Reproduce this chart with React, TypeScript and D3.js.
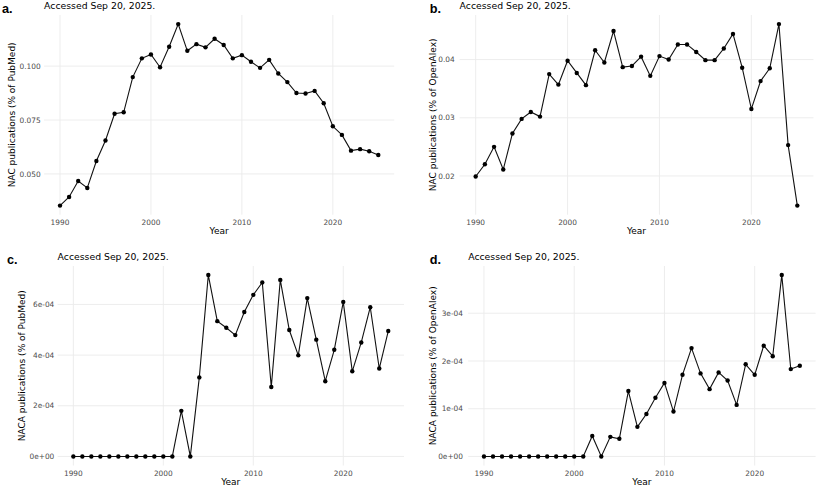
import React from 'react';
import * as d3 from 'd3';

// years 1990..2025
const years: number[] = [
  1990, 1991, 1992, 1993, 1994, 1995, 1996, 1997, 1998, 1999,
  2000, 2001, 2002, 2003, 2004, 2005, 2006, 2007, 2008, 2009,
  2010, 2011, 2012, 2013, 2014, 2015, 2016, 2017, 2018, 2019,
  2020, 2021, 2022, 2023, 2024, 2025,
];

// a. NAC share of PubMed (%)
const nacPubmed: number[] = [
  0.0353, 0.0393, 0.0467, 0.0435, 0.056, 0.0655, 0.0779, 0.0786, 0.0949, 0.1036,
  0.1054, 0.0995, 0.109, 0.1195, 0.1071, 0.1102, 0.1087, 0.1127, 0.1098, 0.1036,
  0.1051, 0.102, 0.0992, 0.1029, 0.0966, 0.0926, 0.0875, 0.0873, 0.0885, 0.0828,
  0.0721, 0.0681, 0.0608, 0.0615, 0.0605, 0.0588,
];

// b. NAC share of OpenAlex (%)
const nacOpenalex: number[] = [
  0.0199, 0.022, 0.025, 0.0211, 0.0273, 0.0298, 0.031, 0.0302, 0.0375, 0.0357,
  0.0398, 0.0377, 0.0356, 0.0416, 0.0395, 0.0449, 0.0387, 0.0389, 0.0405, 0.0372,
  0.0406, 0.04, 0.0426, 0.0426, 0.0413, 0.0399, 0.0399, 0.0419, 0.0444, 0.0386,
  0.0315, 0.0363, 0.0385, 0.0461, 0.0253, 0.0149,
];

// c. NACA share of PubMed (% x 1e-4)
const nacaPubmed: number[] = [
  0, 0, 0, 0, 0, 0, 0, 0, 0, 0,
  0, 0, 1.8, 0, 3.12, 7.16, 5.34, 5.08, 4.79, 5.7,
  6.38, 6.87, 2.74, 6.97, 4.99, 3.99, 6.25, 4.61, 2.97, 4.21,
  6.1, 3.36, 4.5, 5.89, 3.47, 4.95,
].map(v => v * 1e-4);

// d. NACA share of OpenAlex (% x 1e-4)
const nacaOpenalex: number[] = [
  0, 0, 0, 0, 0, 0, 0, 0, 0, 0,
  0, 0, 0.43, 0, 0.41, 0.37, 1.37, 0.62, 0.89, 1.23,
  1.54, 0.94, 1.71, 2.27, 1.74, 1.41, 1.76, 1.59, 1.08, 1.93,
  1.71, 2.32, 2.1, 3.8, 1.83, 1.9,
].map(v => v * 1e-4);

const xTicks: number[] = [1990, 2000, 2010, 2020];
const yTicksA: number[] = [0.05, 0.075, 0.1];
const yTicksB: number[] = [0.02, 0.03, 0.04];
const yTicksC: number[] = [0, 2e-4, 4e-4, 6e-4];
const yTicksD: number[] = [0, 1e-4, 2e-4, 3e-4];

const titleText = 'Accessed Sep 20, 2025.';
const FONT = '"DejaVu Sans", sans-serif';
const GRID = '#EBEBEB';

const sciFormat = (v: number) =>
  d3.format('.0e')(v).replace(/e([+-])(\d)$/, 'e$10$2');

interface PanelProps {
  values: number[];
  yTicks: number[];
  fmt: (v: number) => string;
  tag: string;
  yLabel: string;
  left: number;
  right: number;
  top: number;
  bottom: number;
  tickRight: number;
  yLabelX: number;
  tagX: number;
}

const Panel: React.FC<PanelProps> = ({
  values, yTicks, fmt, tag, yLabel, left, right, top, bottom, tickRight, yLabelX, tagX,
}) => {
  // ggplot style 5% expansion
  const [x0, x1] = d3.extent(years) as [number, number];
  const xPad = (x1 - x0) * 0.05;
  const x = d3.scaleLinear().domain([x0 - xPad, x1 + xPad]).range([left, right]);

  const [y0, y1] = d3.extent(values) as [number, number];
  const yPad = (y1 - y0) * 0.05;
  const y = d3.scaleLinear().domain([y0 - yPad, y1 + yPad]).range([bottom, top]);

  const pts = years.map((yr, i) => [yr, values[i]] as [number, number]);
  const line = d3.line<[number, number]>().x(d => x(d[0])).y(d => y(d[1]));

  return (
    <g fontFamily={FONT}>
      {xTicks.map(t => (
        <line key={'gx' + t} x1={x(t)} x2={x(t)} y1={top} y2={bottom} stroke={GRID} strokeWidth={0.9} />
      ))}
      {yTicks.map(t => (
        <line key={'gy' + t} x1={left} x2={right} y1={y(t)} y2={y(t)} stroke={GRID} strokeWidth={0.9} />
      ))}
      <path d={line(pts) || ''} fill="none" stroke="#111" strokeWidth={1.1} />
      {pts.map(d => (
        <circle key={d[0]} cx={x(d[0])} cy={y(d[1])} r={2.2} fill="#000" />
      ))}
      {xTicks.map(t => (
        <text key={'tx' + t} x={x(t)} y={bottom + 10.5} fontSize={7.4} fill="#4D4D4D" textAnchor="middle">{t}</text>
      ))}
      {yTicks.map(t => (
        <text key={'ty' + t} x={tickRight} y={y(t)} dy="0.35em" fontSize={7.4} fill="#4D4D4D" textAnchor="end">{fmt(t)}</text>
      ))}
      <text x={(left + right) / 2} y={bottom + 19.5} fontSize={9} fill="#000" textAnchor="middle">Year</text>
      <text
        transform={`translate(${yLabelX},${(top + bottom) / 2}) rotate(-90)`}
        dy="0.35em" fontSize={9} fill="#000" textAnchor="middle"
      >{yLabel}</text>
      <text x={left} y={top - 6} fontSize={9.3} fill="#000">{titleText}</text>
      <text x={tagX} y={top - 2} fontSize={12.7} fontWeight="bold" fontFamily='"Liberation Sans", Arial, sans-serif' fill="#000">{tag}</text>
    </g>
  );
};

export default function App() {
  return (
    <svg width={817} height={488} style={{ position: 'absolute', left: 0, top: 0, background: '#fff' }}>
      <Panel values={nacPubmed} yTicks={yTicksA} fmt={d3.format('.3f')} tag="a."
        yLabel="NAC publications (% of PubMed)"
        left={44.1} right={394.2} top={15} bottom={214.7} tickRight={40.7} yLabelX={12} tagX={2} />
      <Panel values={nacOpenalex} yTicks={yTicksB} fmt={d3.format('.2f')} tag="b."
        yLabel="NAC publications (% of OpenAlex)"
        left={459.6} right={813.4} top={15} bottom={214.7} tickRight={454.7} yLabelX={433} tagX={429.7} />
      <Panel values={nacaPubmed} yTicks={yTicksC} fmt={sciFormat} tag="c."
        yLabel="NACA publications (% of PubMed)"
        left={57.6} right={404} top={266} bottom={465.5} tickRight={54.3} yLabelX={21.7} tagX={7} />
      <Panel values={nacaOpenalex} yTicks={yTicksD} fmt={sciFormat} tag="d."
        yLabel="NACA publications (% of OpenAlex)"
        left={468.2} right={815.6} top={266} bottom={465.5} tickRight={463} yLabelX={433} tagX={429.7} />
    </svg>
  );
}
